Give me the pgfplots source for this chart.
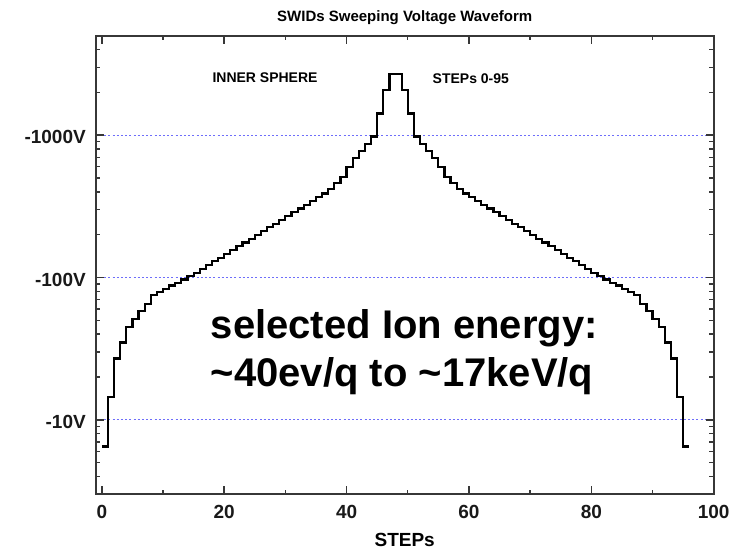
\documentclass[border=0pt]{standalone}
\usepackage{pgfplots}
\pgfplotsset{compat=1.18}
\usepackage{fontspec}
\setmainfont{Liberation Sans}
\definecolor{gridblue}{RGB}{110,110,250}
\definecolor{axgray}{RGB}{55,55,55}
\begin{document}
\begin{tikzpicture}[x=1pt,y=1pt]
\path[use as bounding box] (0,0) rectangle (744,554);
\begin{axis}[
  at={(95.7pt,59.7pt)}, anchor=south west,
  scale only axis, width=618pt, height=458.6pt,
  ymode=log, xmin=-1, xmax=100, ymin=3, ymax=5000,
  xtick={0,20,...,100}, minor xtick={10,30,50,70,90},
  ytick={10,100,1000}, yticklabels={-10V,-100V,-1000V},
  minor ytick={3,4,5,6,7,8,9,20,30,40,50,60,70,80,90,200,300,400,500,600,700,800,900,2000,3000,4000},
  tick align=inside, major tick length=8pt, minor tick length=4.5pt,
  ymajorgrids,
  major grid style={gridblue, dash pattern=on 2pt off 2.2pt, line width=1pt},
  axis line style={axgray, line width=2pt},
  every tick/.style={axgray, line width=1.4pt},
  /pgf/number format/assume math mode=true,
  tick label style={font=\bfseries\fontsize{19}{19}\selectfont, text=black!90},
  xticklabel style={anchor=base, inner sep=0pt, yshift=-24.3pt},
  yticklabel style={anchor=east, inner sep=0pt, xshift=-9.7pt, yshift=-2pt},
  title={SWIDs Sweeping Voltage Waveform},
  title style={font=\bfseries\fontsize{15}{15}\selectfont, at={(axis description cs:0.5,1)}, anchor=base, inner sep=0pt, yshift=8pt},
  xlabel={STEPs},
  xlabel style={font=\bfseries\fontsize{19}{19}\selectfont, at={(axis description cs:0.5,0)}, anchor=base, inner sep=0pt, yshift=-52.7pt},
]
\addplot[const plot, black, line width=2.2pt] coordinates {
(0,6.5) (1,14.4) (2,27) (3,35) (4,45) (5,51) (6,58) (7,65) (8,75) (9,79)
(10,83) (11,88) (12,92) (13,97) (14,102) (15,108) (16,115) (17,122) (18,130) (19,138)
(20,147) (21,156) (22,166) (23,176) (24,187) (25,199) (26,212) (27,225) (28,239) (29,254)
(30,270) (31,287) (32,305) (33,324) (34,345) (35,366) (36,389) (37,418) (38,460) (39,510)
(40,600) (41,690) (42,770) (43,870) (44,980) (45,1420) (46,2080) (47,2700)
(48,2700) (49,2080) (50,1420) (51,980) (52,870) (53,770) (54,690) (55,600) (56,510) (57,460)
(58,418) (59,389) (60,366) (61,345) (62,324) (63,305) (64,287) (65,270) (66,254) (67,239)
(68,225) (69,212) (70,199) (71,187) (72,176) (73,166) (74,156) (75,147) (76,138) (77,130)
(78,122) (79,115) (80,108) (81,102) (82,97) (83,92) (84,88) (85,83) (86,79) (87,75)
(88,65) (89,58) (90,51) (91,45) (92,35) (93,27) (94,14.4) (95,6.5) (96,6.5)
};
\node[anchor=center, font=\bfseries\fontsize{14}{14}\selectfont] at (rel axis cs:0.274,0.909) {INNER SPHERE};
\node[anchor=base, font=\bfseries\fontsize{14}{14}\selectfont] at (rel axis cs:0.607,0.896) {STEPs 0-95};
\node[anchor=base west, inner sep=0pt, font=\bfseries\fontsize{40}{40}\selectfont] at (rel axis cs:0.186,0.340) {selected Ion energy:};
\node[anchor=base west, inner sep=0pt, font=\bfseries\fontsize{40}{40}\selectfont] at (rel axis cs:0.186,0.2346) {\textasciitilde 40ev/q to \textasciitilde 17keV/q};
\end{axis}
\end{tikzpicture}
\end{document}
